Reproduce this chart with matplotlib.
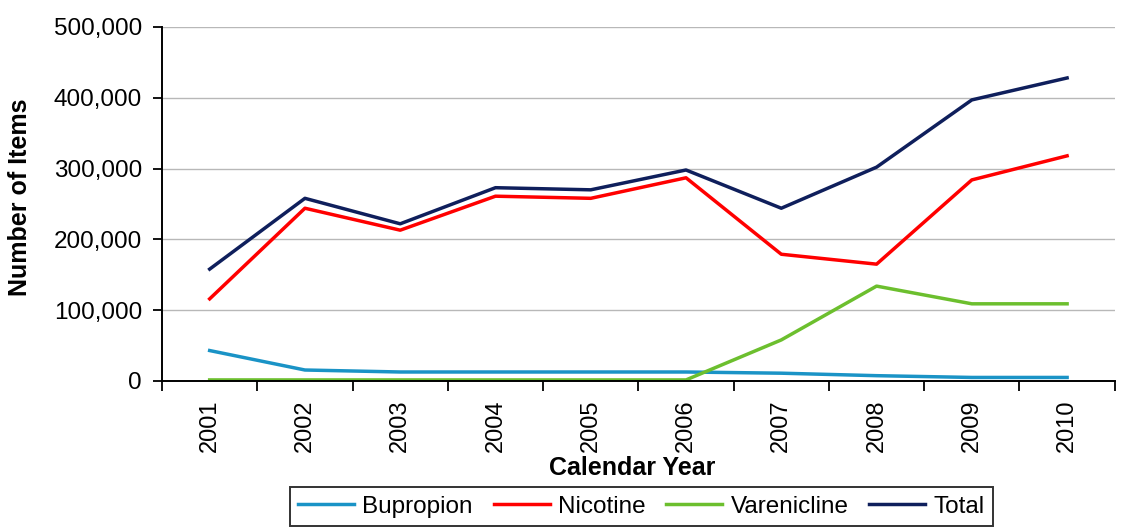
import matplotlib.pyplot as plt
from matplotlib.ticker import FuncFormatter, FixedLocator

plt.rcParams["font.family"] = ["Liberation Sans", "DejaVu Sans"]

years = ["2001", "2002", "2003", "2004", "2005", "2006", "2007", "2008", "2009", "2010"]
bupropion = [43000, 15500, 12700, 12700, 12700, 12700, 11000, 7500, 5000, 5000]
nicotine = [116000, 244000, 213000, 261000, 258000, 287000, 179000, 165000, 284000, 318000]
varenicline = [1500, 1500, 1500, 1500, 1500, 1500, 58000, 134000, 109000, 109000]
total = [158000, 258000, 222000, 273000, 270000, 298000, 244000, 302000, 397000, 428000]

series = [
    ("Bupropion", bupropion, "#1a93c6"),
    ("Nicotine", nicotine, "#ff0000"),
    ("Varenicline", varenicline, "#6cbf2e"),
    ("Total", total, "#0f1f5c"),
]

fig = plt.figure(figsize=[11.26, 5.29], dpi=100)
ax = fig.add_axes([0.1439, 0.2798, 0.8461, 0.6692])

x = list(range(len(years)))
for name, vals, col in series:
    ax.plot(x, vals, color=col, linewidth=2.5, label=name)

ax.set_xlim(-0.5, len(years) - 0.5)
ax.set_ylim(0, 500000)
ax.set_yticks(range(0, 500001, 100000))
ax.yaxis.set_major_formatter(FuncFormatter(lambda v, p: f"{int(v):,}"))
ax.grid(axis="y", color="#b8b8b8", linewidth=1)
ax.set_axisbelow(True)

ax.xaxis.set_major_locator(FixedLocator([i - 0.5 for i in range(len(years) + 1)]))
ax.xaxis.set_minor_locator(FixedLocator(x))
ax.set_xticklabels([])
ax.set_xticklabels(years, minor=True, rotation=90)
ax.tick_params(axis="x", which="major", direction="out", length=7, width=1.3)
ax.tick_params(axis="x", which="minor", length=0, labelsize=17, pad=13)
ax.tick_params(axis="y", direction="out", length=6.5, width=1.3, labelsize=17.5, pad=8)

for s in ["top", "right"]:
    ax.spines[s].set_visible(False)
for s in ["left", "bottom"]:
    ax.spines[s].set_linewidth(1.4)

ax.set_xlabel("Calendar Year", fontsize=18, fontweight="bold")
ax.xaxis.set_label_coords(0.494, -0.212)
ax.set_ylabel("Number of Items", fontsize=18, fontweight="bold")
ax.yaxis.set_label_coords(-0.1364, 0.52)

leg = fig.legend(loc="center", bbox_to_anchor=(0.5697, 0.0425), ncol=4, fontsize=17.5,
                 frameon=True, fancybox=False, edgecolor="black", handlelength=2.3,
                 columnspacing=0.85, handletextpad=0.35, borderpad=0.35)
leg.get_frame().set_linewidth(1.4)

fig.savefig("out.png", dpi=100)
